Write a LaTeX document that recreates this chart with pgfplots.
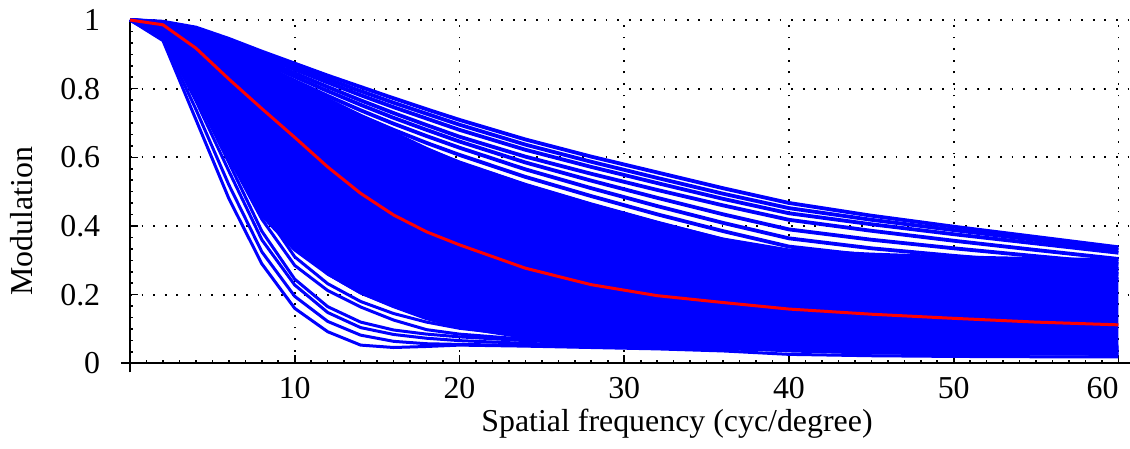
\documentclass[border=0pt]{standalone}
\usepackage{fontspec}
\setmainfont{Liberation Serif}
\usepackage{pgfplots}
\pgfplotsset{compat=1.18}
\usepackage{pgfplotstable}
\usepgfplotslibrary{fillbetween}

\pgfplotstableread{
x  T1   T2   T3   T4   T5   T6   T7   T8   Cup  Clo  L1   L2   L3   L4   L5   L6   L7   M
0  1    1    1    1    1    1    1    1    1    1    1    1    1    1    1    1    1    1
2  .995 .994 .993 .992 .991 .990 .989 .988 .988 .950 .940 .945 .950 .952 .955 .958 .960 .986
4  .978 .975 .972 .968 .965 .962 .958 .955 .955 .800 .710 .740 .765 .780 .790 .800 .810 .918
6  .945 .940 .935 .928 .922 .916 .910 .903 .903 .610 .480 .520 .560 .585 .600 .625 .645 .828
8  .908 .902 .895 .886 .878 .869 .860 .851 .860 .430 .290 .325 .360 .385 .420 .450 .475 .742
10 .873 .865 .856 .845 .835 .823 .812 .800 .815 .330 .160 .195 .228 .245 .285 .310 .345 .658
12 .838 .828 .818 .805 .793 .779 .765 .752 .770 .260 .092 .122 .148 .165 .212 .232 .260 .572
14 .805 .793 .781 .766 .753 .737 .721 .706 .722 .205 .053 .082 .104 .120 .164 .180 .205 .495
16 .772 .759 .746 .729 .715 .698 .680 .663 .672 .165 .046 .064 .084 .097 .126 .145 .166 .432
18 .740 .727 .713 .694 .680 .662 .642 .623 .626 .130 .049 .057 .073 .085 .098 .120 .140 .383
20 .709 .695 .680 .660 .646 .628 .607 .585 .585 .105 .053 .055 .066 .077 .085 .102 .120 .345
24 .652 .637 .622 .602 .585 .565 .543 .520 .520 .075 .050 .052 .058 .066 .070 .080 .092 .277
28 .602 .587 .572 .552 .532 .510 .487 .463 .463 .060 .046 .048 .052 .058 .062 .068 .075 .229
32 .556 .540 .525 .505 .482 .458 .434 .410 .410 .052 .042 .045 .048 .053 .057 .062 .068 .197
36 .510 .494 .479 .460 .434 .409 .385 .360 .362 .046 .036 .042 .045 .049 .053 .058 .063 .177
40 .467 .452 .437 .418 .390 .364 .340 .315 .330 .036 .026 .038 .042 .046 .050 .055 .060 .158
45 .430 .418 .405 .386 .360 .335 .313 .290 .318 .030 .022 .034 .040 .043 .047 .052 .057 .143
50 .398 .388 .376 .357 .335 .313 .292 .270 .310 .028 .020 .031 .038 .041 .045 .049 .054 .131
55 .368 .359 .349 .330 .312 .293 .275 .257 .305 .027 .019 .029 .036 .039 .043 .047 .052 .120
60 .338 .330 .322 .304 .290 .275 .260 .245 .302 .026 .019 .027 .035 .038 .042 .046 .050 .112
}\mtf

\begin{document}
\begin{tikzpicture}
\begin{axis}[
  at={(0,0)}, anchor=south west,
  scale only axis, width=500bp, height=171.65bp,
  xmin=0, xmax=60.7, ymin=0, ymax=1,
  clip=false,
  axis lines=left,
  axis line style={-, line width=1.1bp, black},
  x axis line style={-, shorten <=-4.5bp},
  y axis line style={-, shorten <=-4.5bp},
  xtick={0,10,20,30,40,50,60}, xticklabels={,10,20,30,40,50,\llap{60}},
  ytick={0,0.2,0.4,0.6,0.8,1}, yticklabels={0,0.2,0.4,0.6,0.8,1},
  minor x tick num=9, minor y tick num=5,
  tick align=inside, major tick length=4bp, minor tick length=1.6bp,
  tick style={black, line width=0.8bp},
  grid=major,
  major grid style={black, line width=0.9bp, dash pattern=on 0.9bp off 4.9bp},
  tick label style={font=\fontsize{16}{19}\selectfont},
  label style={font=\fontsize{16}{19}\selectfont},
  yticklabel style={xshift=-11.4bp},
  xticklabel style={anchor=base, yshift=-17.5bp},
  xlabel={Spatial frequency (cyc/degree)},
  ylabel={Modulation},
  xlabel style={at={(axis description cs:0.547,-0.1992)}, anchor=base},
  ylabel style={at={(axis description cs:-0.097,0.414)}, anchor=base},
]
\addplot[name path=up, blue, line width=1.5bp] table[x=x,y=Cup]{\mtf};
\addplot[name path=lo, blue, line width=1.5bp] table[x=x,y=Clo]{\mtf};
\addplot[fill=blue, draw=none] fill between[of=up and lo];
\pgfplotsinvokeforeach{T1,T2,T3,T4,T5,T6,T7,T8}{
  \addplot[blue, line width=1.9bp] table[x=x,y=#1]{\mtf};
}
\pgfplotsinvokeforeach{L1,L2,L3,L4,L5,L6,L7}{
  \addplot[blue, line width=1.5bp] table[x=x,y=#1]{\mtf};
}
\addplot[red, line width=1.5bp] table[x=x,y=M]{\mtf};
\end{axis}
\pgfresetboundingbox
\path[use as bounding box] (-65bp,-42.85bp) rectangle (500bp,181.65bp);
\end{tikzpicture}
\end{document}
